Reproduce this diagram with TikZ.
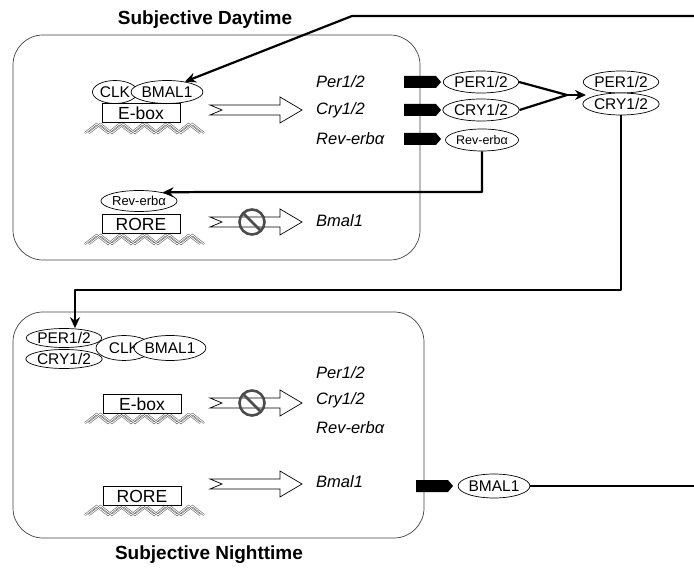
\documentclass[tikz,border=0pt]{standalone}
\usepackage{fontspec}
\setmainfont{Liberation Sans}
\usetikzlibrary{shapes.geometric,shapes.symbols,arrows.meta}
\begin{document}
\begin{tikzpicture}[x=1pt,y=-1pt,
  prot/.style={ellipse, draw, fill=white, line width=0.7pt, inner sep=0pt,
    minimum width=68pt, minimum height=22pt, font=\fontsize{15.5}{15.5}\selectfont},
  gene/.style={anchor=west, inner sep=0pt, font=\fontsize{16.5}{16.5}\selectfont\itshape},
  site/.style={draw, fill=white, line width=0.7pt, minimum width=78pt, minimum height=19pt,
    inner sep=0pt, font=\fontsize{17.5}{17.5}\selectfont},
  cell/.style={draw=black!75, line width=0.7pt, rounded corners=30pt},
  ttl/.style={font=\fontsize{19}{19}\selectfont\bfseries},
  link/.style={line width=2.2pt, line join=round},
  arr/.style={link, -{Stealth[length=11pt,width=10pt]}},
  blk/.style={signal, signal to=east, fill=black, draw=none, minimum width=37pt,
    minimum height=12pt, inner sep=0pt, signal pointer angle=100},
  dna/.pic={
    \draw[line width=0.5pt, double=white, double distance=0.9pt, black!70]
      (0,9) \foreach \k in {0,...,4}{ -- ++(11.5,-9) -- ++(11.5,9)};
    \draw[line width=0.5pt, double=white, double distance=0.9pt, black!70]
      (4,9) \foreach \k in {0,...,4}{ -- ++(11.5,-9) -- ++(11.5,9)};
  },
  openarrow/.pic={
    \draw[line width=0.7pt, fill=white] (0,-5) -- (70,-5) -- (70,-13) -- (92,0)
      -- (70,13) -- (70,5) -- (0,5) -- (12,0) -- cycle;
  },
  noentry/.pic={
    \draw[line width=2.6pt, black!70] (0,0) circle (12.5pt) (-8.8,-8.8) -- (8.8,8.8);
  }
]
\useasboundingbox (0,0) rectangle (694,569);

% cells and titles
\draw[cell] (13,35) rectangle (420,260);
\draw[cell] (13,312) rectangle (424,538);
\node[ttl] (t1) at (205,20) {Subjective Daytime};
\node[ttl] (t2) at (209,555) {Subjective Nighttime};

% ---------- daytime ----------
\node[prot, minimum width=45pt, minimum height=23pt] (clk1) at (115,92) {CLK};
\node[prot, minimum width=60pt, minimum height=23pt] (bmal1) at (167,92) {BMAL1};
\pic at (85,124) {dna};
\node[site] (ebox1) at (141,113) {E-box};
\pic at (210,110) {openarrow};

\node[gene] (per1) at (316,82) {Per1/2};
\node[gene] (cry1) at (316,110) {Cry1/2};
\node[gene] (rev1) at (316,139) {Rev-erbα};
\node[blk] (bk1) at (420,82) {};
\node[blk] (bk2) at (420,110) {};
\node[blk] (bk3) at (420,139) {};
\node[prot] (PER) at (481,82) {PER1/2};
\node[prot] (CRY) at (481,110) {CRY1/2};
\node[prot, font=\fontsize{12.5}{12.5}\selectfont, minimum width=70pt] (REV) at (482,140) {Rev-erbα};

\node[prot] (PERc) at (621,82) {PER1/2};
\node[prot] (CRYc) at (621,104) {CRY1/2};

\node[prot, font=\fontsize{13}{13}\selectfont, minimum width=74pt, minimum height=21pt] (rev2) at (139,201) {Rev-erbα};
\pic at (85,235) {dna};
\node[site] (rore1) at (141,224) {RORE};
\pic at (210,222) {openarrow};
\pic at (252,222) {noentry};
\node[gene] (bm1) at (316,221) {Bmal1};

% connectors (daytime)
\coordinate (j) at (567,95);
\coordinate (pin) at (586,95);
\draw[link] (PER.east) -- (j);
\draw[link] (CRY.east) -- (j);
\draw[arr] (j) -- (pin);

\coordinate (topin) at (694,16);
\coordinate (tk) at (352,16);
\draw[arr] (topin) -- (tk) -- (bmal1.30);

\coordinate (r2) at (203,192);
\draw[arr] (REV.south) |- (r2) -- (rev2.20);

\coordinate (c2) at (75,290);

% ---------- nighttime ----------
\node[prot, minimum width=56pt, minimum height=25pt] (clk2) at (124,348) {CLK};
\node[prot, minimum width=48pt, minimum height=25pt] (bmal2) at (170,348) {BMAL1};
\node[prot, minimum width=65pt, minimum height=19pt] (per2) at (64,338) {PER1/2};
\node[prot, minimum width=65pt, minimum height=19pt] (cry2) at (64,359) {CRY1/2};

\draw[arr] (CRYc.south) |- (c2) -- (c2 |- per2.north);

\pic at (85,414) {dna};
\node[site] (ebox2) at (142,404) {E-box};
\pic at (210,403) {openarrow};
\pic at (252,403) {noentry};
\node[gene] (per3) at (316,373) {Per1/2};
\node[gene] (cry3) at (316,400) {Cry1/2};
\node[gene] (rev3) at (316,428) {Rev-erbα};

\pic at (85,506) {dna};
\node[site] (rore2) at (142,496) {RORE};
\pic at (210,484) {openarrow};
\node[gene] (bm2) at (316,482) {Bmal1};
\node[blk] (bk4) at (432,486) {};
\node[prot, minimum width=66pt, minimum height=24pt] (BM) at (494,486) {BMAL1};
\coordinate (bmout) at (694,486);
\draw[link] (BM.east) -- (bmout);
\end{tikzpicture}
\end{document}
